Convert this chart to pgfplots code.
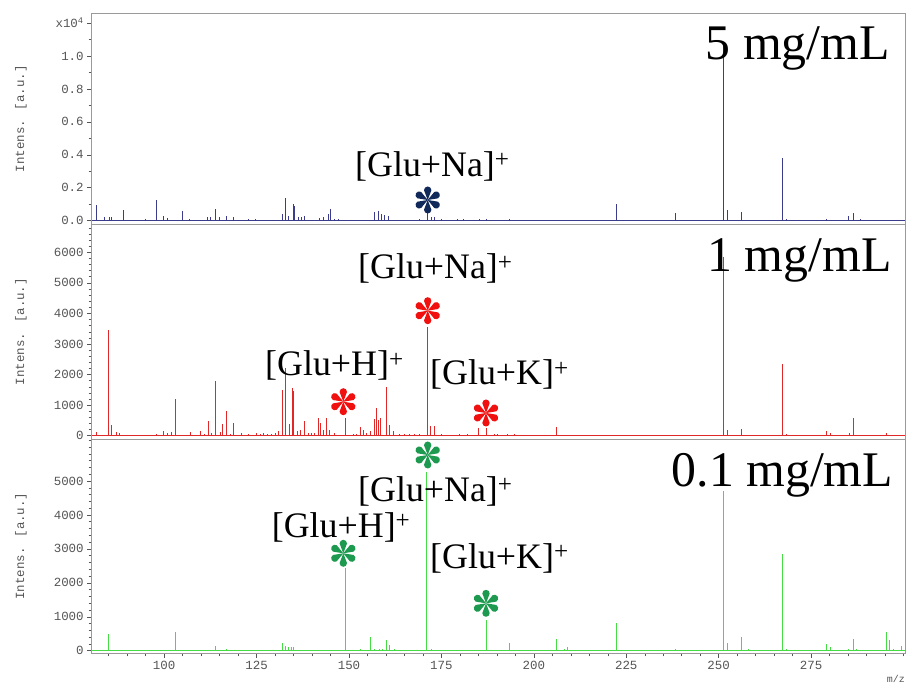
\documentclass[border=0pt]{standalone}
\usepackage{fontspec}
\setmainfont{Liberation Serif}
\newfontfamily\monofont{Liberation Mono}
\usepackage{pgfplots}
\pgfplotsset{compat=1.18}

\definecolor{tickgray}{HTML}{555555}
\definecolor{framegray}{HTML}{9A9A9A}
\definecolor{navyline}{HTML}{3C3C8C}
\definecolor{redline}{HTML}{E02828}
\definecolor{greenline}{HTML}{44DD44}
\definecolor{navystar}{HTML}{10285A}
\definecolor{redstar}{HTML}{F01010}
\definecolor{greenstar}{HTML}{1E9A50}

\pgfplotsset{
  panel/.style={
    scale only axis, width=813.3bp,
    xmin=80.4, xmax=300.4,
    axis line style={framegray, line width=0.8bp},
    tick style={tickgray, line width=0.5bp},
    major tick length=4.5bp, minor tick length=3bp,
    tick align=outside,
    ytick pos=left, xtick pos=bottom,
    yticklabel style={font=\monofont\fontsize{12.5}{14}\selectfont, text=tickgray},
    xticklabel style={font=\monofont\fontsize{12.5}{14}\selectfont, text=tickgray},
    ylabel={Intens. [a.u.]},
    ylabel style={font=\monofont\fontsize{12.5}{14}\selectfont, text=tickgray,
      at={(axis description cs:-0.0869,0.5)}, anchor=center},
  },
  spec/.style={ycomb, line width=0.9bp, no markers},
}

% six teardrop spokes, like the star marks of the original
\tikzset{astr/.pic={
  \foreach \a in {90,30,150,210,270,330}
    \fill[rotate=\a] (0,0) -- (9.8bp,-3.7bp) arc[start angle=-90,end angle=90,radius=3.7bp] -- cycle;
}}

\begin{document}
\begin{tikzpicture}
\useasboundingbox (0,0) rectangle (906bp,685bp);

% 5 mg/mL
\begin{axis}[panel, at={(91.7bp,460.7bp)}, anchor=south west, height=211bp,
  ymin=-0.022, ymax=1.259, xtick=\empty,
  ytick={0,0.2,0.4,0.6,0.8,1.0,1.2},
  yticklabels={0.0,0.2,0.4,0.6,0.8,1.0,x10\textsuperscript{4}},
  minor ytick={0.1,0.3,0.5,0.7,0.9,1.1}]
\addplot[navyline, line width=0.8bp] coordinates {(80.4,0) (300.4,0)};
\addplot[spec, navyline] coordinates {
 (81.70,0.098) (83.94,0.02) (85.30,0.02) (85.84,0.02) (89.08,0.067) (94.95,0.01)
 (97.82,0.128) (99.71,0.03) (100.98,0.015) (104.96,0.057) (106.93,0.01)
 (111.80,0.02) (112.53,0.025) (113.96,0.073) (115.04,0.02) (116.86,0.03) (118.64,0.025)
 (122.7,0.008) (124.78,0.008) (132.0,0.04) (132.81,0.138) (133.62,0.03) (134.86,0.104)
 (135.32,0.09) (136.22,0.02) (137.13,0.025) (137.84,0.03) (142.08,0.015) (142.98,0.02)
 (144.33,0.04) (144.98,0.073) (146.14,0.01) (147.03,0.01) (156.96,0.05) (158.04,0.057)
 (158.85,0.04) (159.66,0.035) (160.74,0.03) (169.13,0.008) (171.10,0.047) (172.29,0.025)
 (173.18,0.025) (174.99,0.008) (179.32,0.01) (180.84,0.01) (185.16,0.012) (187.16,0.008)
 (193.27,0.008) (222.32,0.104) (238.36,0.047) (251.33,1.063) (252.33,0.067) (256.28,0.05)
 (267.37,0.378) (268.29,0.01) (279.27,0.01) (285.22,0.03) (286.49,0.045) (288.3,0.01)
};
\end{axis}

% 1 mg/mL
\begin{axis}[panel, at={(91.7bp,246bp)}, anchor=south west, height=214.7bp,
  ymin=-108, ymax=6915, xtick=\empty,
  ytick={0,1000,2000,3000,4000,5000,6000},
  yticklabels={0,1000,2000,3000,4000,5000,6000},
  minor ytick={200,400,...,6800}]
\addplot[redline, line width=0.8bp] coordinates {(80.4,0) (300.4,0)};
\addplot[spec, redline] coordinates {
 (81.59,120) (84.95,3460) (85.65,357) (87.19,110) (87.92,80) (97.82,60) (99.90,150)
 (100.98,100) (101.87,130) (102.95,1200) (107.12,120) (109.82,150) (110.9,50)
 (111.99,476) (112.88,100) (113.96,1784) (115.23,120) (115.85,378) (116.86,811)
 (117.94,50) (118.83,431) (120.80,80) (122.88,60) (124.86,80) (125.94,60) (126.94,80)
 (128.02,60) (128.92,60) (130.0,80) (131.0,150) (132.08,1482) (132.89,2228) (133.89,389)
 (134.70,1546) (135.05,1450) (135.95,150) (136.95,200) (137.84,465) (138.92,100)
 (139.84,100) (140.73,100) (141.81,583) (142.35,400) (142.98,200) (143.90,573)
 (144.79,200) (146.14,80) (149.03,583) (151.09,60) (152.0,60) (153.17,280) (153.8,200)
 (154.71,100) (155.88,150) (156.77,530) (157.42,897) (158.04,500) (158.58,583)
 (160.20,1580) (160.83,357) (161.91,150) (163.7,40) (165.1,40) (166.4,40) (167.8,40)
 (169.1,40) (171.21,3570) (172.10,330) (172.99,330) (174.99,50) (179.94,40) (182.11,40)
 (185.08,260) (187.16,260) (189.41,60) (190.22,60) (192.93,50) (194.82,40) (198.88,30)
 (206.09,280) (224.84,30) (237.46,30) (242.14,30) (251.33,5836) (252.33,200)
 (256.28,227) (267.37,2335) (268.29,50) (279.27,150) (280.19,100) (285.4,80)
 (286.49,584) (288.3,30) (295.33,100)
};
\end{axis}

% 0.1 mg/mL
\begin{axis}[panel, at={(91.7bp,31.7bp)}, anchor=south west, height=214.3bp,
  ymin=-77, ymax=6238,
  ytick={0,1000,2000,3000,4000,5000},
  yticklabels={0,1000,2000,3000,4000,5000},
  minor ytick={200,400,...,6200},
  xtick={100,125,150,175,200,225,250,275},
  xticklabels={100,125,150,175,200,225,250,275},
  minor xtick={85,90,...,300}]
\addplot[greenline, line width=0.8bp] coordinates {(80.4,0) (300.4,0)};
\addplot[spec, greenline] coordinates {
 (84.84,493) (103.06,560) (113.96,140) (116.86,50) (132.0,236) (132.81,130) (133.62,100)
 (134.43,120) (134.97,110) (148.93,2430) (153.09,40) (155.88,413) (156.96,50)
 (158.12,50) (159.04,50) (160.12,316) (161.02,168) (162.18,50) (171.02,5280)
 (172.29,50) (187.06,906) (193.27,236) (206.09,345) (208.15,50) (208.96,100)
 (222.32,826) (238.36,60) (251.33,4720) (252.33,236) (256.28,413) (258.18,60)
 (267.37,2843) (268.29,60) (279.27,200) (280.19,100) (283.16,30) (285.14,60)
 (286.49,345) (287.39,60) (288.3,30) (295.33,542) (296.22,316) (297.31,60) (299.39,150)
};
\end{axis}

% annotations
\begin{scope}[every node/.style={inner sep=0pt}]
\node[anchor=base east, font=\fontsize{50}{56}\selectfont] at (890bp,625bp) {5 mg/mL};
\node[anchor=base east, font=\fontsize{50}{56}\selectfont] at (891.7bp,413.3bp) {1 mg/mL};
\node[anchor=base east, font=\fontsize{50}{56}\selectfont] at (893.3bp,198.3bp) {0.1 mg/mL};

\node[anchor=base west, font=\fontsize{36}{40}\selectfont] at (355bp,508bp) {[Glu+Na]\textsuperscript{+}};
\node[anchor=base west, font=\fontsize{36}{40}\selectfont] at (358bp,406bp) {[Glu+Na]\textsuperscript{+}};
\node[anchor=base west, font=\fontsize{36}{40}\selectfont] at (265bp,309bp) {[Glu+H]\textsuperscript{+}};
\node[anchor=base west, font=\fontsize{36}{40}\selectfont] at (430bp,300bp) {[Glu+K]\textsuperscript{+}};
\node[anchor=base west, font=\fontsize{36}{40}\selectfont] at (358bp,183.3bp) {[Glu+Na]\textsuperscript{+}};
\node[anchor=base west, font=\fontsize{36}{40}\selectfont] at (271.7bp,147.5bp) {[Glu+H]\textsuperscript{+}};
\node[anchor=base west, font=\fontsize{36}{40}\selectfont] at (430bp,116.7bp) {[Glu+K]\textsuperscript{+}};

\node[anchor=east, text=tickgray, font=\monofont\fontsize{10}{12}\selectfont] at (905bp,6bp) {m/z};
\end{scope}

\pic[color=navystar] at (427.7bp,485bp) {astr};
\pic[color=redstar] at (427.7bp,374.3bp) {astr};
\pic[color=redstar] at (343.3bp,283.3bp) {astr};
\pic[color=redstar] at (486bp,272bp) {astr};
\pic[color=greenstar] at (427.7bp,230bp) {astr};
\pic[color=greenstar] at (343.3bp,131.7bp) {astr};
\pic[color=greenstar] at (486bp,81.7bp) {astr};
\end{tikzpicture}
\end{document}
